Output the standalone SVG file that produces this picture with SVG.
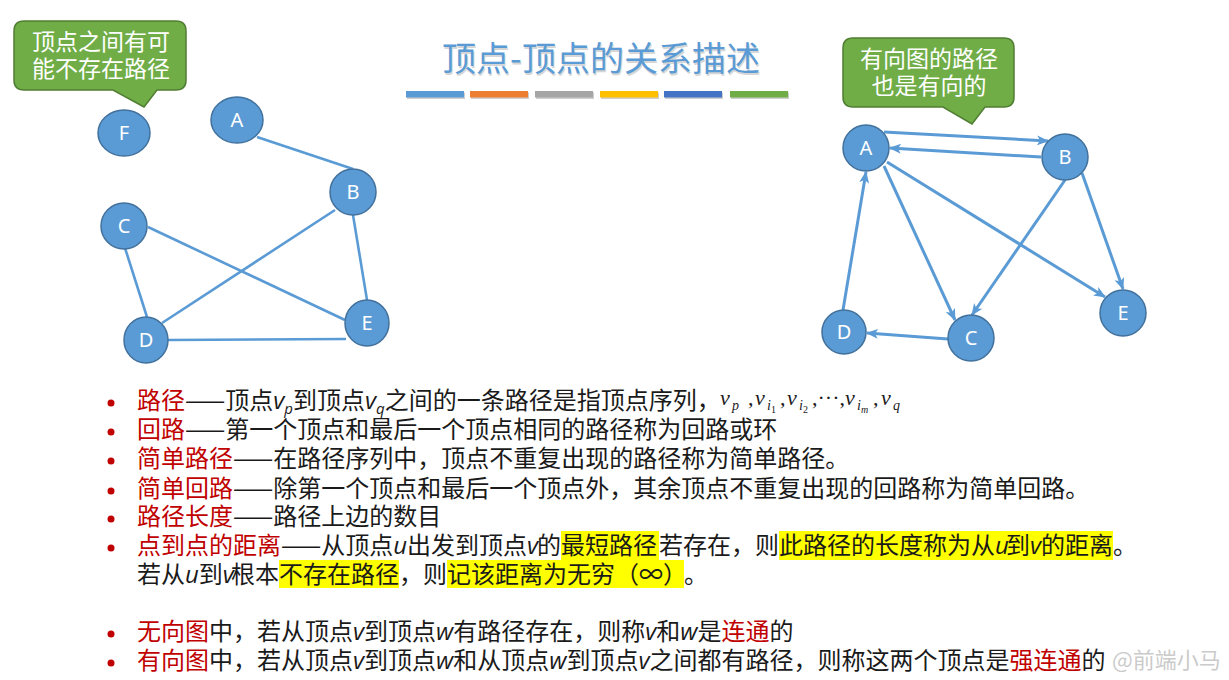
<svg xmlns="http://www.w3.org/2000/svg" width="1229" height="680" viewBox="0 0 1229 680">
<defs>
<style>
.node ellipse{fill:#5B9BD5;stroke:#41719C;stroke-width:1.5}
.node text{fill:#fff;font-family:"Noto Sans","Open Sans",sans-serif;font-size:20px;text-anchor:middle}
.edge{stroke:#5B9BD5;stroke-width:2.6;fill:none}
.dedge{stroke:#5B9BD5;stroke-width:3;fill:none;marker-end:url(#arr)}
.callout path{fill:#70AD47;stroke:#507E32;stroke-width:1.5}
.callout text{fill:#fff;font-family:"Noto Sans CJK SC",sans-serif;font-size:23px;text-anchor:middle}
.t{font-family:"Noto Sans CJK SC",sans-serif;font-size:24px;fill:#1a1a1a}
.r{fill:#C00000}
.i{font-family:"Open Sans","Noto Sans",sans-serif;font-style:italic}
.sub{font-family:"Open Sans","Noto Sans",sans-serif;font-style:italic;font-size:15px}
.m{font-family:"Liberation Serif",serif;font-size:22px;fill:#1a1a1a}
.mi{font-style:italic}
.ms{font-style:italic;font-size:14px}
.mss{font-size:10px}
.hl{fill:#FFFF00}
.bul{fill:#C00000}
</style>
<marker id="arr" markerUnits="userSpaceOnUse" markerWidth="12" markerHeight="10" refX="11" refY="5" orient="auto">
<path d="M0,0 L12,5 L0,10 L3,5 Z" fill="#5B9BD5"/>
</marker>
</defs>
<rect width="1229" height="680" fill="#fff"/>

<g id="title">
<text x="601" y="71" font-family="Noto Sans CJK SC,sans-serif" font-size="34" fill="#d6d6d6" text-anchor="middle" transform="translate(1,1.5)">顶点-顶点的关系描述</text>
<text x="601" y="71" font-family="Noto Sans CJK SC,sans-serif" font-size="34" fill="#5B9BD5" text-anchor="middle">顶点-顶点的关系描述</text>
</g>
<g id="colorbars">
<g fill="#cfcfcf" transform="translate(1,1.5)">
<rect x="406" y="91" width="58" height="6.5"/><rect x="470" y="91" width="58" height="6.5"/><rect x="535" y="91" width="58" height="6.5"/><rect x="600" y="91" width="58" height="6.5"/><rect x="664" y="91" width="58" height="6.5"/><rect x="730" y="91" width="58" height="6.5"/>
</g>
<rect x="406" y="91" width="58" height="6.5" fill="#5B9BD5"/>
<rect x="470" y="91" width="58" height="6.5" fill="#ED7D31"/>
<rect x="535" y="91" width="58" height="6.5" fill="#A5A5A5"/>
<rect x="600" y="91" width="58" height="6.5" fill="#FFC000"/>
<rect x="664" y="91" width="58" height="6.5" fill="#4472C4"/>
<rect x="730" y="91" width="58" height="6.5" fill="#70AD47"/>
</g>

<g id="connectors">
<line class="edge" x1="257" y1="137" x2="353" y2="169"/>
<line class="edge" x1="353" y1="215" x2="367" y2="300"/>
<line class="edge" x1="335" y1="210" x2="162" y2="323"/>
<line class="edge" x1="148" y1="227" x2="345" y2="320"/>
<line class="edge" x1="125" y1="248" x2="147" y2="317"/>
<line class="edge" x1="168" y1="340" x2="346" y2="339"/>

<line class="dedge" x1="884" y1="132" x2="1048" y2="141"/>
<line class="dedge" x1="1041" y1="157" x2="890" y2="148"/>
<line class="dedge" x1="884" y1="166" x2="955" y2="320"/>
<line class="dedge" x1="887" y1="162" x2="1105" y2="297"/>
<line class="dedge" x1="1065" y1="180" x2="972" y2="315"/>
<line class="dedge" x1="1082" y1="173" x2="1123" y2="289"/>
<line class="dedge" x1="843" y1="310" x2="866" y2="172"/>
<line class="dedge" x1="948" y1="339" x2="867" y2="333"/>
</g>

<g id="nF" class="node"><ellipse cx="124" cy="133" rx="26" ry="23"/><text x="124" y="140">F</text></g>
<g id="nA" class="node"><ellipse cx="237" cy="120" rx="26" ry="23"/><text x="237" y="127">A</text></g>
<g id="nB" class="node"><ellipse cx="353" cy="192" rx="23" ry="23"/><text x="353" y="199">B</text></g>
<g id="nC" class="node"><ellipse cx="124" cy="226" rx="23" ry="23"/><text x="124" y="233">C</text></g>
<g id="nD" class="node"><ellipse cx="146" cy="340" rx="22" ry="23"/><text x="146" y="347">D</text></g>
<g id="nE" class="node"><ellipse cx="367" cy="323" rx="22" ry="23"/><text x="367" y="330">E</text></g>

<g id="dA" class="node"><ellipse cx="866" cy="148" rx="23" ry="23"/><text x="866" y="155">A</text></g>
<g id="dB" class="node"><ellipse cx="1065" cy="157" rx="23" ry="23"/><text x="1065" y="164">B</text></g>
<g id="dC" class="node"><ellipse cx="971" cy="338" rx="23" ry="23"/><text x="971" y="345">C</text></g>
<g id="dD" class="node"><ellipse cx="844" cy="332" rx="22" ry="22"/><text x="844" y="339">D</text></g>
<g id="dE" class="node"><ellipse cx="1123" cy="313" rx="23" ry="23"/><text x="1123" y="320">E</text></g>

<g id="callout1" class="callout">
<path d="M24,21 H176 Q186,21 186,31 V80 Q186,90 176,90 H157 L144,107 L113,90 H24 Q14,90 14,80 V31 Q14,21 24,21 Z"/>
<text x="101" y="50">顶点之间有可</text>
<text x="101" y="77">能不存在路径</text>
</g>
<g id="callout2" class="callout">
<path d="M853,38 H1004 Q1014,38 1014,48 V97 Q1014,107 1004,107 H985 L972,124 L943,107 H853 Q843,107 843,97 V48 Q843,38 853,38 Z"/>
<text x="929" y="67">有向图的路径</text>
<text x="929" y="94">也是有向的</text>
</g>

<g id="highlights">
<rect class="hl" x="561" y="531" width="98" height="29"/>
<rect class="hl" x="779" y="531" width="334" height="29"/>
<rect class="hl" x="279" y="560" width="120" height="28"/>
<rect class="hl" x="447" y="560" width="237" height="28"/>
</g>

<g id="bullets">
<circle class="bul" cx="111" cy="403" r="3.5"/>
<circle class="bul" cx="111" cy="432" r="3.5"/>
<circle class="bul" cx="111" cy="461" r="3.5"/>
<circle class="bul" cx="111" cy="491" r="3.5"/>
<circle class="bul" cx="111" cy="519" r="3.5"/>
<circle class="bul" cx="111" cy="548" r="3.5"/>
<circle class="bul" cx="111" cy="634" r="3.5"/>
<circle class="bul" cx="111" cy="663" r="3.5"/>
</g>

<g id="body">
<text class="t" y="409"><tspan x="137" class="r">路径</tspan><tspan>——顶点</tspan><tspan class="i">v</tspan><tspan class="sub" dy="5">p</tspan><tspan dy="-5">到顶点</tspan><tspan class="i">v</tspan><tspan class="sub" dy="5">q</tspan><tspan dy="-5">之间的一条路径是指顶点序列，</tspan></text>
<text class="m" y="405"><tspan x="720" class="mi">v</tspan><tspan x="732" class="ms" dy="5">p</tspan><tspan x="748" dy="-5">,</tspan><tspan x="755" class="mi">v</tspan><tspan x="767" class="ms" dy="5">i</tspan><tspan x="771" class="mss" dy="3">1</tspan><tspan x="780" dy="-8">,</tspan><tspan x="787" class="mi">v</tspan><tspan x="799" class="ms" dy="5">i</tspan><tspan x="803" class="mss" dy="3">2</tspan><tspan x="812" dy="-8">,···,</tspan><tspan x="845" class="mi">v</tspan><tspan x="857" class="ms" dy="5">i</tspan><tspan x="861" class="mss mi" dy="3">m</tspan><tspan x="873" dy="-8">,</tspan><tspan x="881" class="mi">v</tspan><tspan x="893" class="ms" dy="5">q</tspan></text>
<text class="t" y="438"><tspan x="137" class="r">回路</tspan><tspan>——第一个顶点和最后一个顶点相同的路径称为回路或环</tspan></text>
<text class="t" y="467"><tspan x="137" class="r">简单路径</tspan><tspan>——在路径序列中，顶点不重复出现的路径称为简单路径。</tspan></text>
<text class="t" y="497"><tspan x="137" class="r">简单回路</tspan><tspan>——除第一个顶点和最后一个顶点外，其余顶点不重复出现的回路称为简单回路。</tspan></text>
<text class="t" y="525"><tspan x="137" class="r">路径长度</tspan><tspan>——路径上边的数目</tspan></text>
<text class="t" y="554"><tspan x="137" class="r">点到点的距离</tspan><tspan>——从顶点</tspan><tspan class="i">u</tspan><tspan>出发到顶点</tspan><tspan class="i">v</tspan><tspan x="537">的</tspan><tspan x="561">最短路径</tspan><tspan x="659">若存在，则</tspan><tspan x="779">此路径的长度称为从</tspan><tspan class="i">u</tspan><tspan x="1006">到</tspan><tspan class="i">v</tspan><tspan x="1041">的距离</tspan><tspan x="1113">。</tspan></text>
<text class="t" y="583"><tspan x="137">若从</tspan><tspan class="i">u</tspan><tspan>到</tspan><tspan class="i">v</tspan><tspan x="231">根本</tspan><tspan x="279">不存在路径</tspan><tspan x="399">，则</tspan><tspan x="447">记该距离为无穷（∞）</tspan><tspan x="684">。</tspan></text>
<text class="t" y="640"><tspan x="137" class="r">无向图</tspan><tspan>中，若从顶点</tspan><tspan class="i">v</tspan><tspan>到顶点</tspan><tspan class="i">w</tspan><tspan>有路径存在，则称</tspan><tspan class="i">v</tspan><tspan>和</tspan><tspan class="i">w</tspan><tspan>是</tspan><tspan class="r">连通</tspan><tspan>的</tspan></text>
<text class="t" y="669"><tspan x="137" class="r">有向图</tspan><tspan>中，若从顶点</tspan><tspan class="i">v</tspan><tspan>到顶点</tspan><tspan class="i">w</tspan><tspan>和从顶点</tspan><tspan class="i">w</tspan><tspan>到顶点</tspan><tspan class="i">v</tspan><tspan>之间都有路径，则称这两个顶点是</tspan><tspan class="r">强连通</tspan><tspan>的</tspan></text>
</g>

<g id="watermark">
<text x="1112" y="668" font-family="Noto Sans CJK SC,sans-serif" font-size="22" fill="#c4c4c4" fill-opacity="0.9">@前端小马</text>
</g>
</svg>
